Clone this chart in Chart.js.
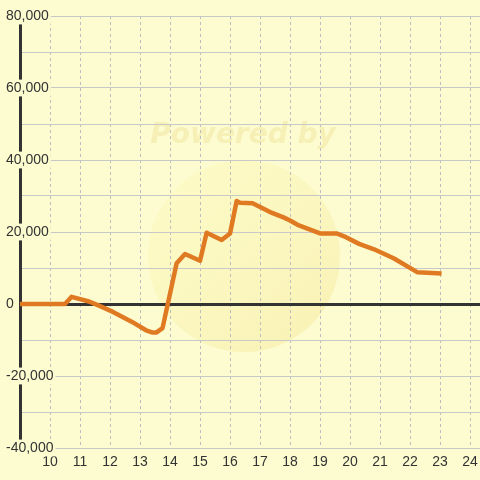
<!DOCTYPE html>
<html>
<head>
<meta charset="utf-8">
<script src="https://cdn.jsdelivr.net/npm/chart.js@4/dist/chart.umd.min.js"></script>
<style>
html,body{margin:0;padding:0;background:#fcfcd0;}
canvas{display:block;}
</style>
</head>
<body>
<canvas id="c" width="480" height="480"></canvas>
<script>
// Data
const hours = [9, 10.5, 10.72, 11.3, 11.67, 12.1, 12.72, 13.2, 13.4, 13.55, 13.75, 14.22, 14.5, 15.0, 15.22, 15.72, 16.0, 16.22, 16.33, 16.75, 17.4, 17.8, 18.0, 18.25, 19.0, 19.55, 19.8, 20.3, 20.8, 21.45, 22.25, 23.05];
const balance = [0, 0, 2000, 700, -600, -2200, -4900, -7300, -7900, -7900, -6700, 11300, 13900, 12000, 19800, 17800, 19600, 28600, 28100, 28000, 25300, 24000, 23200, 22000, 19600, 19600, 18800, 16700, 15200, 12700, 8800, 8500];
const yLabelValues = [-40000, -20000, 0, 20000, 40000, 60000, 80000];
const xLabelValues = [10, 11, 12, 13, 14, 15, 16, 17, 18, 19, 20, 21, 22, 23, 24];

const BG = '#fcfcd0';
const TEXT = '#333333';
const FONT = {family: '"Liberation Sans", Arial, sans-serif', size: 14};

const bgPlugin = {
  id: 'bgWatermark',
  beforeDraw(chart) {
    const ctx = chart.ctx;
    ctx.save();
    ctx.fillStyle = BG;
    ctx.fillRect(0, 0, chart.width, chart.height);
    // faint watermark
    const g = ctx.createLinearGradient(170, 170, 320, 330);
    g.addColorStop(0, 'rgba(255,240,150,0.16)');
    g.addColorStop(1, 'rgba(240,215,110,0.26)');
    ctx.fillStyle = g;
    ctx.beginPath();
    ctx.arc(244, 256, 96, 0, Math.PI * 2);
    ctx.fill();
    ctx.font = 'italic bold 28px "DejaVu Sans", sans-serif';
    ctx.textAlign = 'center';
    ctx.textBaseline = 'middle';
    ctx.fillStyle = 'rgba(235,205,100,0.24)';
    ctx.fillText('Powered by', 243, 136);
    ctx.restore();
  }
};

new Chart(document.getElementById('c'), {
  type: 'line',
  data: {
    datasets: [{
      data: hours.map((h, i) => ({x: h, y: balance[i]})),
      borderColor: '#e07a22',
      borderWidth: 4.5,
      pointRadius: 0,
      tension: 0,
      fill: false,
      borderJoinStyle: 'round',
      borderCapStyle: 'butt'
    }]
  },
  options: {
    responsive: false,
    animation: false,
    devicePixelRatio: 1,
    layout: {padding: {top: 16, right: 0, left: 0, bottom: 0}},
    plugins: {legend: {display: false}, tooltip: {enabled: false}},
    scales: {
      x: {
        type: 'linear',
        min: 9,
        max: 24.33,
        afterFit: s => { s.height = 32; s.paddingLeft = 0; s.paddingRight = 0; },
        border: {display: false, dash: [3, 3]},
        grid: {color: '#bdbdbd', lineWidth: 1, drawTicks: false},
        ticks: {
          stepSize: 1,
          includeBounds: false,
          padding: 6,
          color: TEXT,
          font: FONT,
          maxRotation: 0,
          autoSkip: false,
          callback: v => xLabelValues.includes(v) ? String(v) : ''
        }
      },
      y: {
        type: 'linear',
        min: -40000,
        max: 80000,
        afterFit: s => { s.width = 20; },
        border: {display: true, color: '#333333', width: 3},
        grid: {
          drawTicks: false,
          color: c => c.tick && c.tick.value === 0 ? '#333333' : '#c8c8c8',
          lineWidth: c => c.tick && c.tick.value === 0 ? 3 : 1
        },
        ticks: {
          stepSize: 10000,
          mirror: true,
          padding: -14,
          color: TEXT,
          font: FONT,
          autoSkip: false,
          showLabelBackdrop: c => yLabelValues.includes(c.tick.value),
          backdropColor: BG,
          backdropPadding: {top: 0, bottom: 0, left: 2, right: 2},
          callback: v => yLabelValues.includes(v) ? v.toLocaleString('en-US') : ''
        }
      }
    }
  },
  plugins: [bgPlugin]
});
</script>
</body>
</html>
